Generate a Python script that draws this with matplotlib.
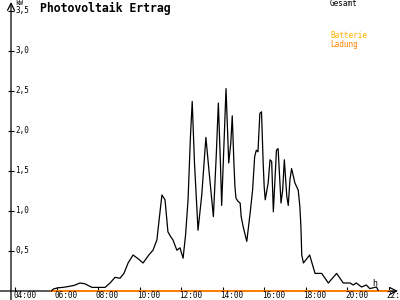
import matplotlib
matplotlib.use("Agg")
import matplotlib.pyplot as plt
import matplotlib.transforms as mtransforms

# ---- data (hours, kW) ----
gesamt_t = [5.75, 5.85, 6.07, 6.3, 6.55, 6.85, 7.13, 7.37, 7.71, 8.34, 8.58, 8.82, 9.06,
            9.25, 9.45, 9.69, 9.95, 10.17, 10.45, 10.65, 10.84, 10.95, 11.08, 11.23, 11.37,
            11.5, 11.61, 11.8, 11.95, 12.1, 12.22, 12.34, 12.45, 12.54, 12.65, 12.82, 13.0,
            13.2, 13.35, 13.56, 13.7, 13.8, 13.9, 13.96, 14.08, 14.17, 14.3, 14.4, 14.47,
            14.55, 14.6, 14.65, 14.75, 14.85, 14.9, 15.0, 15.17, 15.33, 15.45, 15.55, 15.63,
            15.71, 15.8, 15.88, 15.96, 16.01, 16.06, 16.2, 16.29, 16.37, 16.45, 16.6, 16.68,
            16.76, 16.82, 16.9, 16.98, 17.1, 17.17, 17.25, 17.33, 17.49, 17.65, 17.73, 17.78,
            17.82, 17.9, 18.2, 18.46, 18.78, 19.1, 19.5, 19.82, 20.15, 20.3, 20.45, 20.7,
            20.93, 21.1, 21.42, 21.5]
gesamt_kw = [0.0, 0.025, 0.04, 0.045, 0.055, 0.07, 0.10, 0.09, 0.045, 0.045, 0.10, 0.17, 0.16,
             0.22, 0.35, 0.45, 0.40, 0.35, 0.45, 0.51, 0.64, 0.9, 1.2, 1.14, 0.74,
             0.68, 0.64, 0.51, 0.54, 0.41, 0.7, 1.14, 1.9, 2.37, 1.6, 0.76, 1.2,
             1.92, 1.5, 0.93, 1.7, 2.35, 1.6, 1.07, 1.9, 2.53, 1.6, 1.85, 2.19,
             1.6, 1.3, 1.16, 1.12, 1.1, 0.93, 0.8, 0.62, 0.97, 1.26, 1.68, 1.76,
             1.74, 2.22, 2.24, 1.6, 1.3, 1.14, 1.35, 1.64, 1.62, 0.99, 1.76, 1.78,
             1.39, 1.1, 1.26, 1.64, 1.18, 1.07, 1.39, 1.53, 1.35, 1.26, 1.05, 0.8,
             0.45, 0.35, 0.45, 0.22, 0.22, 0.10, 0.22, 0.10, 0.10, 0.075, 0.10, 0.05,
             0.075, 0.03, 0.05, 0.01]
batterie_t = [5.75, 22.0]
batterie_kw = [0.0, 0.0]

y_ticks = [0.5, 1.0, 1.5, 2.0, 2.5, 3.0, 3.5]
y_labels = ["0,5", "1,0", "1,5", "2,0", "2,5", "3,0", "3,5"]
x_ticks = [4, 6, 8, 10, 12, 14, 16, 18, 20, 22]
x_labels = ["04:00", "06:00", "08:00", "10:00", "12:00", "14:00", "16:00", "18:00", "20:00", "22:00"]

W, H = 400, 300
PXH = 20.75   # pixels per hour
PXK = 80.0    # pixels per kW
left_px, bottom_px = 11, 9
right_px, top_px = 398, 2

fig = plt.figure(figsize=(4, 3), dpi=100)
fig.patch.set_facecolor("white")
ax = fig.add_axes([left_px / W, bottom_px / H, (right_px - left_px) / W, (H - bottom_px - top_px) / H])
x0 = 4 - 4 / PXH
ax.set_xlim(x0, x0 + (right_px - left_px) / PXH)
ax.set_ylim(0, (H - bottom_px - top_px) / PXK)
for s in ax.spines.values():
    s.set_visible(False)
ax.patch.set_visible(False)

mono = "DejaVu Sans Mono"

ax.plot(batterie_t, batterie_kw, color="#ff8000", lw=1.4, clip_on=False, zorder=3)
ax.plot(gesamt_t, gesamt_kw, color="black", lw=0.9, clip_on=False, zorder=4)

# axes with arrows
axw = right_px - left_px
axh = H - bottom_px - top_px
ax.annotate("", xy=(1.0, 0), xytext=(-left_px / axw, 0), xycoords="axes fraction",
            arrowprops=dict(arrowstyle="->,head_length=0.5,head_width=0.25", lw=0.9, color="black",
                            shrinkA=0, shrinkB=0), zorder=2)
ax.annotate("", xy=(0, 1.0), xytext=(0, -bottom_px / axh), xycoords="axes fraction",
            arrowprops=dict(arrowstyle="->,head_length=0.5,head_width=0.25", lw=0.9, color="black",
                            shrinkA=0, shrinkB=0), zorder=2)

ax.set_yticks(y_ticks)
ax.set_xticks(x_ticks)
ax.tick_params(axis="y", direction="inout", length=5, width=0.8, labelleft=False)
ax.tick_params(axis="x", direction="in", length=3, width=0.8, labelbottom=False)

ytr = ax.get_yaxis_transform() + mtransforms.ScaledTranslation(4 / 100, 0, fig.dpi_scale_trans)
for v, lab in zip(y_ticks, y_labels):
    ax.text(0, v, lab, transform=ytr, ha="left", va="center", fontsize=5.5, family=mono, color="black")

xtr = ax.get_xaxis_transform() + mtransforms.ScaledTranslation(-2 / 100, -5 / 100, fig.dpi_scale_trans)
for v, lab in zip(x_ticks, x_labels):
    ax.text(v, 0, lab, transform=xtr, ha="left", va="center", fontsize=5.5, family=mono,
            color="black", clip_on=False)

fig.text(15 / W, 1 - 3 / H, "kW", ha="left", va="center", fontsize=4.8, family=mono)
fig.text(372 / W, 1 - 283 / H, "h", ha="left", va="center", fontsize=6, family=mono)
fig.text(40 / W, 1 - 8 / H, "Photovoltaik Ertrag", ha="left", va="center", fontsize=8.3,
         family=mono, fontweight="bold")
fig.text(330 / W, 1 - 4 / H, "Gesamt", ha="left", va="center", fontsize=5.5, family=mono, color="black")
fig.text(330 / W, 1 - 36 / H, "Batterie", ha="left", va="center", fontsize=5.5, family=mono, color="#ffb000")
fig.text(330 / W, 1 - 44 / H, "Ladung", ha="left", va="center", fontsize=5.5, family=mono, color="#ff8000")

fig.savefig("out.png", dpi=100, facecolor="white")
